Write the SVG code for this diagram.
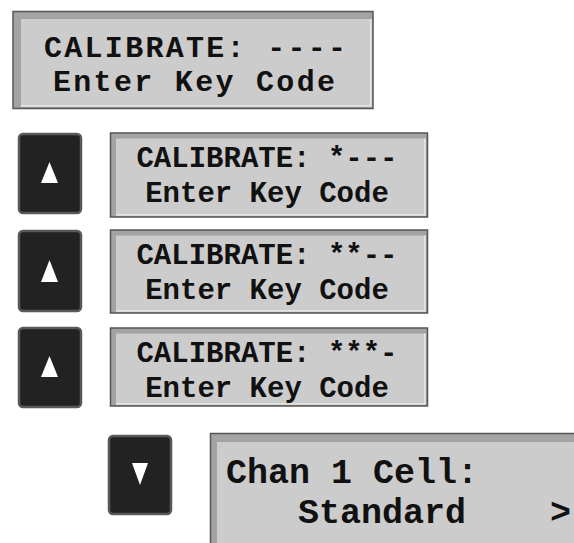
<svg xmlns="http://www.w3.org/2000/svg" width="574" height="543" viewBox="0 0 574 543">
<style>
.outer{fill:#a3a3a3;stroke:#555;stroke-width:1.5}
.inner{fill:#cccccc}
.hl{stroke:#ececec;stroke-width:1.5;fill:none}
.t{font-family:"Liberation Mono","Courier New",monospace;font-weight:bold;fill:#111}
.btn{fill:#222;stroke:#595959;stroke-width:2.5}
.tri{fill:#fff}
</style>
<rect width="574" height="543" fill="#fff"/>
<g id="panel0">
<rect class="outer" x="13" y="11.5" width="360" height="97"/>
<rect class="inner" x="21" y="19" width="350" height="87"/>
<polyline class="hl" points="371,19 371,106 21,106"/>
<text class="t" x="195" y="57" font-size="30" text-anchor="middle" textLength="302" lengthAdjust="spacing">CALIBRATE: ----</text>
<text class="t" x="194" y="91" font-size="30" text-anchor="middle" textLength="282" lengthAdjust="spacing">Enter Key Code</text>
</g>
<g id="btn1">
<rect class="btn" x="19" y="134" width="62" height="79" rx="4"/>
<polygon class="tri" points="49.5,162 41,183 58,183"/>
</g>
<g id="panel1">
<rect class="outer" x="110.5" y="133" width="317" height="84"/>
<rect class="inner" x="116" y="138.5" width="309" height="76.5"/>
<polyline class="hl" points="425,138.5 425,215 116,215"/>
<text class="t" x="267" y="167" font-size="29" text-anchor="middle">CALIBRATE: *---</text>
<text class="t" x="267" y="202" font-size="29" text-anchor="middle">Enter Key Code</text>
</g>
<g id="btn2">
<rect class="btn" x="19" y="231" width="62" height="80" rx="4"/>
<polygon class="tri" points="49.5,260 41,282 58,282"/>
</g>
<g id="panel2">
<rect class="outer" x="110.5" y="230" width="317" height="83"/>
<rect class="inner" x="116" y="235.5" width="309" height="75.5"/>
<polyline class="hl" points="425,235.5 425,311 116,311"/>
<text class="t" x="267" y="264" font-size="29" text-anchor="middle">CALIBRATE: **--</text>
<text class="t" x="267" y="299" font-size="29" text-anchor="middle">Enter Key Code</text>
</g>
<g id="btn3">
<rect class="btn" x="19" y="328" width="62" height="79" rx="4"/>
<polygon class="tri" points="49.5,356 41,377 58,377"/>
</g>
<g id="panel3">
<rect class="outer" x="110.5" y="328" width="317" height="78"/>
<rect class="inner" x="116" y="333.5" width="309" height="70.5"/>
<polyline class="hl" points="425,333.5 425,404 116,404"/>
<text class="t" x="267" y="362" font-size="29" text-anchor="middle">CALIBRATE: ***-</text>
<text class="t" x="267" y="397" font-size="29" text-anchor="middle">Enter Key Code</text>
</g>
<g id="btn4">
<rect class="btn" x="109" y="436" width="62" height="78" rx="4"/>
<polygon class="tri" points="132,463 148,463 140,485"/>
</g>
<g id="panel4">
<rect class="outer" x="210.5" y="433.5" width="380" height="120"/>
<rect class="inner" x="217" y="442" width="370" height="110"/>
<text class="t" x="226" y="483" font-size="35">Chan 1 Cell:</text>
<text class="t" x="298" y="523" font-size="35">Standard</text>
<text class="t" x="550" y="523" font-size="35">&gt;</text>
</g>
<g id="connectors"/>
</svg>
